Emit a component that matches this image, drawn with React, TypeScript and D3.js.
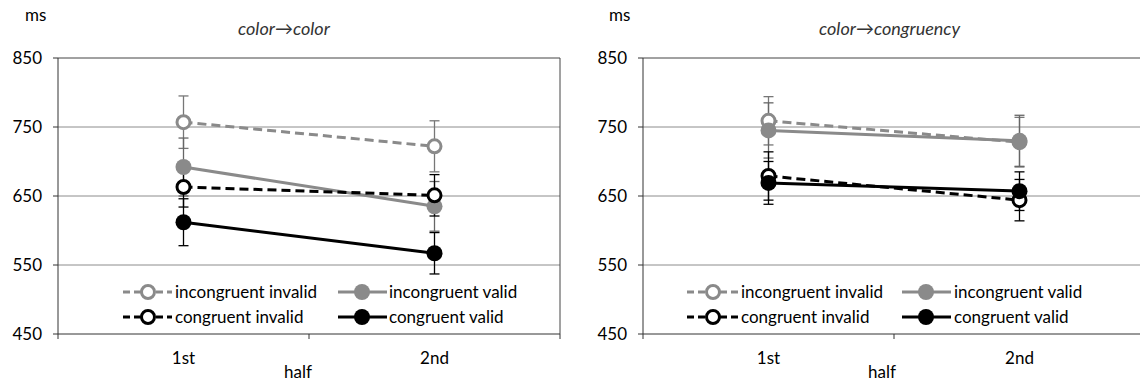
import React from "react";
import * as d3 from "d3";

const halves = ["1st", "2nd"];
const seriesNames = ["incongruent invalid", "incongruent valid", "congruent invalid", "congruent valid"];
const seriesColors = ["#8a8a8a", "#8a8a8a", "#000000", "#000000"];
const seriesFilled = [false, true, false, true];
const seriesDashed = [true, false, true, false];
const errColors = ["#777777", "#666666", "#000000", "#000000"];

const yTicks = [450, 550, 650, 750, 850];

// panel 1: color -> color
const ccIncongruentInvalid = [757, 722];
const ccIncongruentValid = [692, 635];
const ccCongruentInvalid = [663, 651];
const ccCongruentValid = [612, 567];
const ccErrIncongruentInvalid = [38, 37];
const ccErrIncongruentValid = [42, 36];
const ccErrCongruentInvalid = [29, 30];
const ccErrCongruentValid = [34, 30];

// panel 2: color -> congruency
const cgIncongruentInvalid = [759, 728];
const cgIncongruentValid = [745, 730];
const cgCongruentInvalid = [679, 644];
const cgCongruentValid = [669, 657];
const cgErrIncongruentInvalid = [35, 36];
const cgErrIncongruentValid = [40, 37];
const cgErrCongruentInvalid = [35, 30];
const cgErrCongruentValid = [31, 28];

const FONT = "Lato, 'Open Sans', sans-serif";

type Panel = {
  title: string;
  x0: number;
  x1: number;
  rightBorder: boolean;
  means: number[][];
  errs: number[][];
  legendCols: { lineStart: number; lineEnd: number; marker: number; text: number }[];
  msX: number;
  titleX: number;
  halfX: number;
};

const panels: Panel[] = [
  {
    title: "color\u2192color",
    x0: 58,
    x1: 560,
    rightBorder: true,
    means: [ccIncongruentInvalid, ccIncongruentValid, ccCongruentInvalid, ccCongruentValid],
    errs: [ccErrIncongruentInvalid, ccErrIncongruentValid, ccErrCongruentInvalid, ccErrCongruentValid],
    legendCols: [
      { lineStart: 123, lineEnd: 172, marker: 148, text: 175 },
      { lineStart: 338, lineEnd: 387, marker: 362, text: 389 },
    ],
    msX: 25,
    titleX: 238,
    halfX: 298,
  },
  {
    title: "color\u2192congruency",
    x0: 643,
    x1: 1145,
    rightBorder: false,
    means: [cgIncongruentInvalid, cgIncongruentValid, cgCongruentInvalid, cgCongruentValid],
    errs: [cgErrIncongruentInvalid, cgErrIncongruentValid, cgErrCongruentInvalid, cgErrCongruentValid],
    legendCols: [
      { lineStart: 687, lineEnd: 739, marker: 713, text: 741 },
      { lineStart: 902, lineEnd: 951, marker: 926, text: 954 },
    ],
    msX: 609,
    titleX: 819,
    halfX: 882,
  },
];

const TOP = 58;
const BOTTOM = 334;
const LEGEND_ROWS = [292, 317];

function Chart({ p }: { p: Panel }) {
  const y = d3.scaleLinear().domain([450, 850]).range([BOTTOM, TOP]);
  const x = d3.scaleBand<string>().domain(halves).range([p.x0, p.x1]).padding(0);
  const cx = (h: string) => (x(h) as number) + x.bandwidth() / 2;
  const line = d3
    .line<number>()
    .x((_, i) => cx(halves[i]))
    .y((v) => y(v));
  const r = 8;
  const capW = 5;

  const marker = (i: number, mx: number, my: number, key: string) => (
    <circle
      key={key}
      cx={mx}
      cy={my}
      r={seriesFilled[i] ? r : r - 1.5}
      fill={seriesFilled[i] ? seriesColors[i] : "#fff"}
      stroke={seriesColors[i]}
      strokeWidth={seriesFilled[i] ? 0 : 3}
    />
  );

  return (
    <g>
      {/* gridlines */}
      {yTicks.slice(1, 4).map((t) => (
        <line key={t} x1={p.x0} x2={p.x1} y1={y(t)} y2={y(t)} stroke="#8c8c8c" strokeWidth={1} />
      ))}
      {/* plot border top */}
      <line x1={p.x0} x2={p.x1} y1={y(850)} y2={y(850)} stroke="#444" strokeWidth={1} />
      {p.rightBorder && <line x1={p.x1} x2={p.x1} y1={TOP} y2={BOTTOM} stroke="#444" strokeWidth={1} />}
      {/* y axis */}
      <line x1={p.x0} x2={p.x0} y1={TOP} y2={BOTTOM} stroke="#333" strokeWidth={1} />
      {yTicks.map((t) => (
        <g key={t}>
          <line x1={p.x0 - 5} x2={p.x0} y1={y(t)} y2={y(t)} stroke="#333" />
          <text x={p.x0 - 16} y={y(t)} dy="0.35em" textAnchor="end" fontFamily={FONT} fontSize={17} fill="#000">
            {t}
          </text>
        </g>
      ))}
      {/* x axis */}
      <line x1={p.x0} x2={p.x1} y1={BOTTOM} y2={BOTTOM} stroke="#333" strokeWidth={1} />
      {[p.x0, p.x0 + x.bandwidth(), p.x1].map((tx, i) => (
        <line key={i} x1={tx} x2={tx} y1={BOTTOM} y2={BOTTOM + 5} stroke="#333" />
      ))}
      {halves.map((h) => (
        <text key={h} x={cx(h)} y={364} textAnchor="middle" fontFamily={FONT} fontSize={17} fill="#000">
          {h}
        </text>
      ))}
      <text x={p.halfX} y={378} textAnchor="middle" fontFamily={FONT} fontSize={17} fill="#000">
        half
      </text>
      <text x={p.msX} y={21} fontFamily={FONT} fontSize={17} fill="#000">
        ms
      </text>
      <text x={p.titleX} y={35} fontFamily={FONT} fontSize={18} fontStyle="italic" fill="#333">
        {p.title}
      </text>

      {/* series lines */}
      {p.means.map((m, i) => (
        <path
          key={"l" + i}
          d={line(m) as string}
          fill="none"
          stroke={seriesColors[i]}
          strokeWidth={3}
          strokeDasharray={seriesDashed[i] ? "9,5" : undefined}
        />
      ))}
      {/* error bars */}
      {p.means.map((m, i) =>
        m.map((v, j) => {
          const xx = cx(halves[j]);
          const e = p.errs[i][j];
          return (
            <g key={"e" + i + j} stroke={errColors[i]} strokeWidth={1.3}>
              <line x1={xx} x2={xx} y1={y(v + e)} y2={y(v - e)} />
              <line x1={xx - capW} x2={xx + capW} y1={y(v + e)} y2={y(v + e)} />
              <line x1={xx - capW} x2={xx + capW} y1={y(v - e)} y2={y(v - e)} />
            </g>
          );
        })
      )}
      {/* markers */}
      {p.means.map((m, i) => m.map((v, j) => marker(i, cx(halves[j]), y(v), "m" + i + j)))}

      {/* legend */}
      {seriesNames.map((name, i) => {
        const col = p.legendCols[i % 2];
        const ry = LEGEND_ROWS[Math.floor(i / 2)];
        return (
          <g key={"lg" + i}>
            <line
              x1={col.lineStart}
              x2={col.lineEnd}
              y1={ry}
              y2={ry}
              stroke={seriesColors[i]}
              strokeWidth={3}
              strokeDasharray={seriesDashed[i] ? "7,4" : undefined}
            />
            {marker(i, col.marker, ry, "lm" + i)}
            <text x={col.text} y={ry} dy="0.35em" fontFamily={FONT} fontSize={17} fill="#000">
              {name}
            </text>
          </g>
        );
      })}
    </g>
  );
}

export default function App() {
  return (
    <div style={{ position: "absolute", left: 0, top: 0 }}>
      <svg width={1140} height={383} style={{ display: "block", background: "#fff" }}>
        <rect width={1140} height={383} fill="#fff" />
        {panels.map((p, i) => (
          <Chart key={i} p={p} />
        ))}
      </svg>
    </div>
  );
}
